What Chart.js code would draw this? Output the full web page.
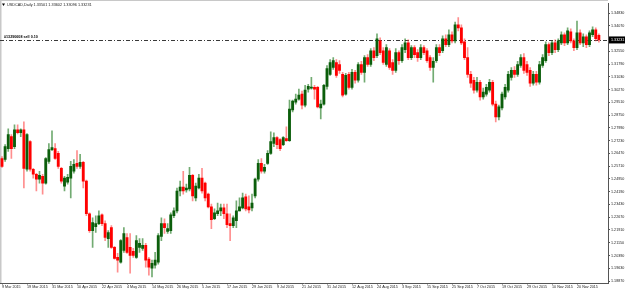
<!DOCTYPE html>
<html>
<head>
<meta charset="utf-8">
<script src="https://cdn.jsdelivr.net/npm/chart.js@4.4.1/dist/chart.umd.min.js"></script>
<style>
  html, body { margin: 0; padding: 0; background: #fff; }
  canvas { display: block; }
</style>
</head>
<body>
<canvas id="usdcadChart" width="625" height="290"></canvas>
<script>
// USDCAD daily candles, 9 Mar 2015 .. 1 Dec 2015 (one bar per weekday)

const symbolTitle = "USDCAD,Daily";
const orderText = "#13290608 sell 0.10";
const orderPrice = 1.3324;

const opens = [
  1.2617, 1.2611, 1.2676, 1.2747, 1.2688, 1.2788, 1.2770, 1.2788, 1.2553, 1.2718,
  1.2553, 1.2523, 1.2494, 1.2511, 1.2470, 1.2600, 1.2670, 1.2676, 1.2647, 1.2558,
  1.2452, 1.2476, 1.2500, 1.2541, 1.2588, 1.2570, 1.2594, 1.2482, 1.2288, 1.2187,
  1.2211, 1.2229, 1.2282, 1.2229, 1.2140, 1.2205, 1.2087, 1.2028, 1.1999, 1.2070,
  1.2146, 1.2087, 1.2064, 1.2028, 1.2087, 1.2081, 1.2099, 1.2017, 1.1964, 1.1981,
  1.1999, 1.2152, 1.2229, 1.2182, 1.2187, 1.2276, 1.2305, 1.2423, 1.2447, 1.2429,
  1.2435, 1.2517, 1.2382, 1.2441, 1.2500, 1.2470, 1.2405, 1.2329, 1.2258, 1.2288,
  1.2305, 1.2323, 1.2288, 1.2229, 1.2217, 1.2246, 1.2305, 1.2323, 1.2388, 1.2329,
  1.2323, 1.2394, 1.2494, 1.2588, 1.2541, 1.2588, 1.2647, 1.2706, 1.2741, 1.2729,
  1.2700, 1.2735, 1.2723, 1.2906, 1.2953, 1.2971, 1.3000, 1.2935, 1.3030, 1.3036,
  1.3041, 1.3041, 1.2918, 1.2941, 1.3047, 1.3118, 1.3159, 1.3189, 1.3177, 1.3118,
  1.3000, 1.3118, 1.3041, 1.3130, 1.3083, 1.3177, 1.3130, 1.3218, 1.3177, 1.3259,
  1.3230, 1.3318, 1.3259, 1.3177, 1.3259, 1.3189, 1.3142, 1.3248, 1.3200, 1.3265,
  1.3306, 1.3218, 1.3277, 1.3248, 1.3218, 1.3277, 1.3259, 1.3218, 1.3159, 1.3200,
  1.3277, 1.3259, 1.3330, 1.3295, 1.3354, 1.3318, 1.3413, 1.3395, 1.3312, 1.3218,
  1.3118, 1.3083, 1.3024, 1.3071, 1.2983, 1.3000, 1.3024, 1.3071, 1.2941, 1.2865,
  1.2918, 1.2983, 1.3024, 1.3100, 1.3142, 1.3118, 1.3171, 1.3218, 1.3177, 1.3142,
  1.3065, 1.3118, 1.3071, 1.3171, 1.3200, 1.3295, 1.3248, 1.3306, 1.3265, 1.3306,
  1.3354, 1.3306, 1.3371, 1.3318, 1.3277, 1.3365, 1.3306, 1.3342, 1.3295, 1.3354,
  1.3383, 1.33501
];
const highs = [
  1.2629, 1.2700, 1.2794, 1.2759, 1.2817, 1.2817, 1.2794, 1.2835, 1.2765, 1.2724,
  1.2558, 1.2529, 1.2541, 1.2523, 1.2623, 1.2706, 1.2782, 1.2706, 1.2659, 1.2564,
  1.2511, 1.2523, 1.2600, 1.2611, 1.2664, 1.2641, 1.2600, 1.2488, 1.2293, 1.2264,
  1.2276, 1.2305, 1.2288, 1.2246, 1.2187, 1.2217, 1.2093, 1.2052, 1.2134, 1.2205,
  1.2170, 1.2170, 1.2081, 1.2158, 1.2140, 1.2140, 1.2111, 1.2028, 1.2011, 1.2058,
  1.2170, 1.2264, 1.2258, 1.2229, 1.2293, 1.2323, 1.2441, 1.2482, 1.2541, 1.2464,
  1.2564, 1.2523, 1.2470, 1.2523, 1.2558, 1.2476, 1.2411, 1.2346, 1.2317, 1.2352,
  1.2346, 1.2346, 1.2346, 1.2288, 1.2276, 1.2364, 1.2382, 1.2411, 1.2405, 1.2394,
  1.2405, 1.2500, 1.2611, 1.2617, 1.2582, 1.2664, 1.2776, 1.2770, 1.2747, 1.2735,
  1.2747, 1.2806, 1.2965, 1.2965, 1.3000, 1.3030, 1.3018, 1.3053, 1.3059, 1.3100,
  1.3053, 1.3047, 1.2965, 1.3059, 1.3171, 1.3206, 1.3218, 1.3206, 1.3200, 1.3130,
  1.3124, 1.3130, 1.3148, 1.3142, 1.3189, 1.3195, 1.3230, 1.3236, 1.3271, 1.3277,
  1.3359, 1.3336, 1.3277, 1.3295, 1.3271, 1.3206, 1.3271, 1.3259, 1.3295, 1.3330,
  1.3324, 1.3289, 1.3289, 1.3265, 1.3295, 1.3289, 1.3271, 1.3230, 1.3218, 1.3295,
  1.3295, 1.3348, 1.3354, 1.3383, 1.3371, 1.3430, 1.3457, 1.3413, 1.3330, 1.3277,
  1.3136, 1.3100, 1.3100, 1.3083, 1.3036, 1.3059, 1.3089, 1.3083, 1.2959, 1.2935,
  1.3012, 1.3059, 1.3136, 1.3159, 1.3165, 1.3195, 1.3236, 1.3242, 1.3195, 1.3159,
  1.3136, 1.3136, 1.3195, 1.3236, 1.3312, 1.3306, 1.3318, 1.3324, 1.3330, 1.3371,
  1.3365, 1.3395, 1.3389, 1.3330, 1.3436, 1.3383, 1.3359, 1.3354, 1.3377, 1.3401,
  1.3395, 1.33602
];
const lows = [
  1.2564, 1.2600, 1.2659, 1.2617, 1.2676, 1.2764, 1.2747, 1.2441, 1.2541, 1.2541,
  1.2500, 1.2423, 1.2470, 1.2405, 1.2464, 1.2588, 1.2664, 1.2611, 1.2558, 1.2470,
  1.2423, 1.2464, 1.2382, 1.2529, 1.2558, 1.2558, 1.2441, 1.2276, 1.2176, 1.2087,
  1.2176, 1.2223, 1.2217, 1.2128, 1.2087, 1.2081, 1.2017, 1.1940, 1.1993, 1.2058,
  1.2052, 1.1934, 1.2028, 1.2022, 1.2058, 1.2070, 1.1969, 1.1922, 1.1911, 1.1964,
  1.1987, 1.2128, 1.2170, 1.2170, 1.2170, 1.2264, 1.2293, 1.2394, 1.2405, 1.2417,
  1.2423, 1.2364, 1.2364, 1.2435, 1.2411, 1.2364, 1.2323, 1.2199, 1.2252, 1.2276,
  1.2276, 1.2258, 1.2205, 1.2128, 1.2205, 1.2205, 1.2305, 1.2317, 1.2305, 1.2293,
  1.2305, 1.2382, 1.2482, 1.2529, 1.2529, 1.2582, 1.2641, 1.2688, 1.2676, 1.2664,
  1.2694, 1.2718, 1.2718, 1.2894, 1.2941, 1.2965, 1.2912, 1.2924, 1.3012, 1.3030,
  1.2971, 1.2918, 1.2853, 1.2935, 1.3030, 1.3112, 1.3148, 1.3100, 1.3124, 1.2983,
  1.2994, 1.3030, 1.3030, 1.3065, 1.3071, 1.3118, 1.3071, 1.3165, 1.3165, 1.3200,
  1.3218, 1.3236, 1.3177, 1.3165, 1.3148, 1.3118, 1.3130, 1.3177, 1.3189, 1.3248,
  1.3206, 1.3206, 1.3218, 1.3195, 1.3206, 1.3236, 1.3189, 1.3142, 1.3071, 1.3189,
  1.3230, 1.3248, 1.3283, 1.3283, 1.3306, 1.3306, 1.3377, 1.3295, 1.3206, 1.3100,
  1.3041, 1.3006, 1.3012, 1.2965, 1.2971, 1.2988, 1.3012, 1.2930, 1.2835, 1.2847,
  1.2906, 1.2971, 1.3012, 1.3083, 1.3100, 1.3106, 1.3159, 1.3124, 1.3112, 1.3047,
  1.3053, 1.3053, 1.3059, 1.3159, 1.3189, 1.3230, 1.3236, 1.3248, 1.3254, 1.3295,
  1.3289, 1.3295, 1.3306, 1.3259, 1.3265, 1.3295, 1.3283, 1.3277, 1.3283, 1.3342,
  1.3318, 1.33096
];
const closes = [
  1.2570, 1.2688, 1.2759, 1.2676, 1.2788, 1.2770, 1.2788, 1.2558, 1.2759, 1.2553,
  1.2523, 1.2494, 1.2517, 1.2470, 1.2617, 1.2670, 1.2682, 1.2617, 1.2570, 1.2482,
  1.2500, 1.2505, 1.2570, 1.2582, 1.2570, 1.2594, 1.2482, 1.2288, 1.2187, 1.2235,
  1.2229, 1.2276, 1.2229, 1.2146, 1.2176, 1.2087, 1.2022, 1.2011, 1.2128, 1.2170,
  1.2058, 1.2040, 1.2040, 1.2128, 1.2111, 1.2099, 1.2011, 1.1969, 1.1993, 1.2011,
  1.2158, 1.2229, 1.2205, 1.2199, 1.2282, 1.2305, 1.2423, 1.2447, 1.2423, 1.2441,
  1.2517, 1.2394, 1.2452, 1.2500, 1.2423, 1.2382, 1.2329, 1.2252, 1.2293, 1.2305,
  1.2323, 1.2288, 1.2223, 1.2217, 1.2264, 1.2305, 1.2329, 1.2382, 1.2317, 1.2311,
  1.2352, 1.2494, 1.2588, 1.2541, 1.2564, 1.2647, 1.2718, 1.2741, 1.2700, 1.2676,
  1.2741, 1.2723, 1.2912, 1.2959, 1.2971, 1.2994, 1.2935, 1.3024, 1.3047, 1.3041,
  1.3030, 1.2924, 1.2941, 1.3053, 1.3153, 1.3189, 1.3200, 1.3112, 1.3142, 1.2994,
  1.3112, 1.3041, 1.3130, 1.3083, 1.3177, 1.3130, 1.3218, 1.3177, 1.3259, 1.3218,
  1.3330, 1.3248, 1.3189, 1.3277, 1.3159, 1.3142, 1.3248, 1.3200, 1.3277, 1.3306,
  1.3218, 1.3277, 1.3236, 1.3218, 1.3277, 1.3248, 1.3200, 1.3159, 1.3195, 1.3277,
  1.3248, 1.3330, 1.3295, 1.3354, 1.3318, 1.3413, 1.3395, 1.3306, 1.3218, 1.3118,
  1.3065, 1.3024, 1.3071, 1.2983, 1.3012, 1.3041, 1.3071, 1.2941, 1.2865, 1.2924,
  1.3000, 1.3041, 1.3118, 1.3142, 1.3118, 1.3177, 1.3218, 1.3142, 1.3130, 1.3065,
  1.3118, 1.3071, 1.3177, 1.3218, 1.3295, 1.3248, 1.3306, 1.3265, 1.3318, 1.3354,
  1.3306, 1.3377, 1.3318, 1.3277, 1.3365, 1.3306, 1.3342, 1.3295, 1.3365, 1.3383,
  1.3330, 1.33231
];

// date labels, one every 8 bars
const xTickStep = 8;
const xTickLabels = [
  "9 Mar 2015", "19 Mar 2015", "31 Mar 2015", "10 Apr 2015", "22 Apr 2015", "4 May 2015",
  "14 May 2015", "26 May 2015", "5 Jun 2015", "17 Jun 2015", "29 Jun 2015", "9 Jul 2015",
  "21 Jul 2015", "31 Jul 2015", "12 Aug 2015", "24 Aug 2015", "3 Sep 2015", "15 Sep 2015",
  "25 Sep 2015", "7 Oct 2015", "19 Oct 2015", "29 Oct 2015", "10 Nov 2015", "20 Nov 2015"
];

const yTickLabels = [
  "1.34830", "1.34070", "1.33310", "1.32550", "1.31790", "1.31030", "1.30270", "1.29510",
  "1.28750", "1.27990", "1.27230", "1.26470", "1.25710", "1.24950", "1.24190", "1.23430",
  "1.22670", "1.21910", "1.21150", "1.20390", "1.19630", "1.18870"
];

const UP_BODY = "#0b5e0b";
const DOWN_BODY = "#ff0000";
const UP_WICK = "rgba(20,115,20,0.6)";
const DOWN_WICK = "rgba(255,50,50,0.55)";
const FONT = "Liberation Sans";

function isUp(i) {
  return closes[i] >= opens[i];
}

const mt4Overlay = {
  id: "mt4Overlay",
  beforeDraw(chart) {
    const ctx = chart.ctx;
    ctx.save();
    ctx.fillStyle = "#ffffff";
    ctx.fillRect(0, 0, chart.width, chart.height);
    ctx.fillStyle = "#c8c8c8";
    ctx.fillRect(0, 0, 1.5, chart.chartArea.bottom);
    ctx.fillRect(0, 0, chart.chartArea.right, 1);
    ctx.restore();
  },
  beforeDatasetsDraw(chart) {
    // order line (dash-dot) with its label
    const ctx = chart.ctx;
    const y = Math.round(chart.scales.y.getPixelForValue(orderPrice)) + 0.5;
    ctx.save();
    ctx.strokeStyle = "#3a3a3a";
    ctx.lineWidth = 1;
    ctx.setLineDash([4, 2, 1, 2]);
    ctx.beginPath();
    ctx.moveTo(chart.chartArea.left, y);
    ctx.lineTo(chart.chartArea.right, y);
    ctx.stroke();
    ctx.setLineDash([]);
    ctx.fillStyle = "#000";
    ctx.font = "bold 3.7px '" + FONT + "'";
    ctx.textBaseline = "bottom";
    ctx.fillText(orderText, 4, y - 2);
    ctx.restore();
  },
  afterDraw(chart) {
    const ctx = chart.ctx;
    const last = closes.length - 1;
    ctx.save();
    // header
    ctx.fillStyle = "#000";
    ctx.beginPath();
    ctx.moveTo(2, 3.5);
    ctx.lineTo(5, 3.5);
    ctx.lineTo(3.5, 6);
    ctx.closePath();
    ctx.fill();
    ctx.fillStyle = "#222";
    ctx.font = "3.8px '" + FONT + "'";
    ctx.textBaseline = "middle";
    const ohlc = [opens[last], highs[last], lows[last], closes[last]].map(v => v.toFixed(5));
    ctx.fillText(symbolTitle + " " + ohlc.join(" "), 7, 5);
    // current price label on the right axis
    const py = chart.scales.y.getPixelForValue(closes[last]);
    ctx.fillStyle = "#000";
    ctx.fillRect(609, py - 3.5, 16, 7);
    ctx.fillStyle = "#fff";
    ctx.font = "3.7px '" + FONT + "'";
    ctx.fillText(closes[last].toFixed(5), 611, py);
    ctx.restore();
  }
};

const bodyData = opens.map((o, i) => ({ x: i, y: [o, closes[i]] }));
const wickData = lows.map((l, i) => ({ x: i, y: [l, highs[i]] }));

new Chart(document.getElementById("usdcadChart"), {
  type: "bar",
  data: {
    datasets: [
      {
        label: "body",
        data: bodyData,
        backgroundColor: (c) => (isUp(c.dataIndex) ? UP_BODY : DOWN_BODY),
        barThickness: 2.2,
        minBarLength: 1,
        borderWidth: 0,
        grouped: false,
      },
      {
        label: "wick",
        data: wickData,
        backgroundColor: (c) => (isUp(c.dataIndex) ? UP_WICK : DOWN_WICK),
        barThickness: 1,
        borderWidth: 0,
        grouped: false,
      },
    ],
  },
  options: {
    responsive: false,
    animation: false,
    events: [],
    layout: { padding: 0 },
    plugins: {
      legend: { display: false },
      tooltip: { enabled: false },
      title: { display: false },
    },
    scales: {
      x: {
        type: "linear",
        min: -0.64,
        max: 193.92,
        offset: false,
        afterFit(scale) { scale.height = 7; },
        afterBuildTicks(scale) {
          scale.ticks = xTickLabels.map((_, k) => ({ value: k * xTickStep }));
        },
        border: { display: true, color: "#555" },
        grid: { drawOnChartArea: false, drawTicks: true, tickLength: 1.5, color: "#555", offset: false },
        ticks: {
          autoSkip: false,
          maxRotation: 0,
          minRotation: 0,
          align: "start",
          padding: 0.5,
          color: "#222",
          font: { family: FONT, size: 3.7 },
          callback: (v) => xTickLabels[Math.round(v / xTickStep)] || "",
        },
      },
      y: {
        position: "right",
        min: 1.18752,
        max: 1.35419,
        afterFit(scale) { scale.width = 17; },
        afterBuildTicks(scale) {
          scale.ticks = yTickLabels.map((s) => ({ value: Number(s) }));
        },
        border: { display: true, color: "#555" },
        grid: { drawOnChartArea: false, drawTicks: true, tickLength: 2, color: "#555" },
        ticks: {
          autoSkip: false,
          padding: 1,
          color: "#222",
          font: { family: FONT, size: 3.7 },
          callback: (v) => Number(v).toFixed(5),
        },
      },
    },
  },
  plugins: [mt4Overlay],
});
</script>
</body>
</html>
